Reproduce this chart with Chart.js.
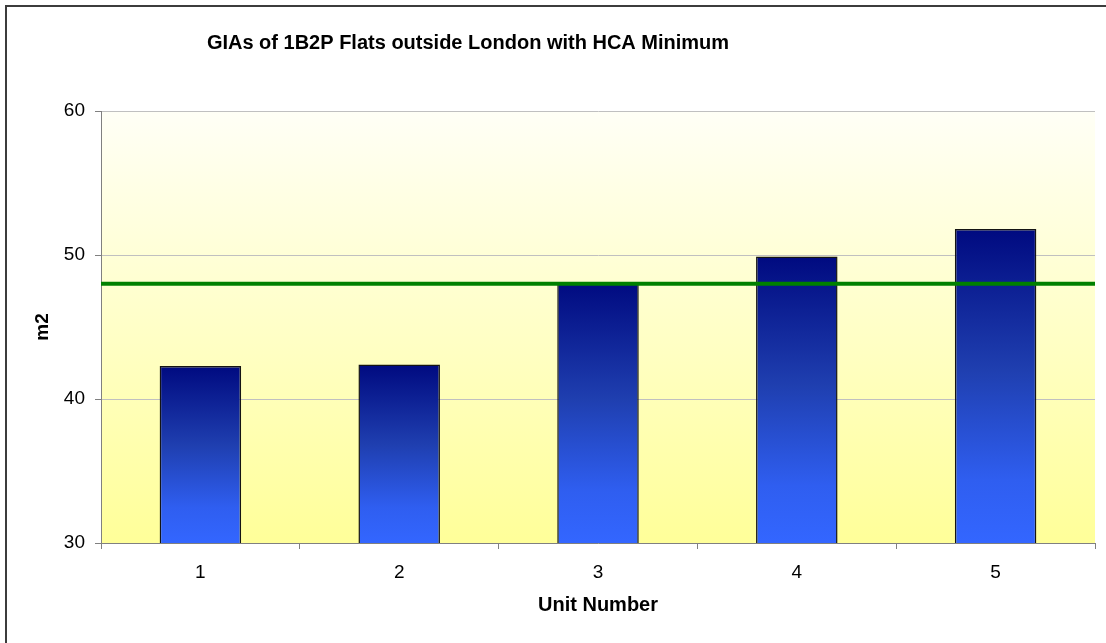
<!DOCTYPE html>
<html>
<head>
<meta charset="utf-8">
<title>GIAs of 1B2P Flats</title>
<script src="https://cdn.jsdelivr.net/npm/chart.js@4/dist/chart.umd.min.js"></script>
<style>
  html, body { margin: 0; padding: 0; background: #fff; overflow: hidden; }
  #wrap { position: relative; width: 1106px; height: 643px; overflow: hidden; }
  #frame {
    position: absolute; left: 5px; top: 5px; width: 1200px; height: 700px;
    border-left: 2px solid #3c3c3c; border-top: 2px solid #3c3c3c;
    pointer-events: none;
  }
</style>
</head>
<body>
<div id="wrap">
  <canvas id="chart" width="1106" height="643"></canvas>
  <div id="frame"></div>
</div>
<script>
const units = ['1', '2', '3', '4', '5'];
const areas = [42.3, 42.4, 48.1, 49.9, 51.8];
const hcaMinimum = 48;
const yTicks = [30, 40, 50, 60];

const FONT = "'Liberation Sans', Arial, Helvetica, sans-serif";

// yellow wash behind the plot area
const plotBackground = {
    id: 'plotBackground',
    beforeDraw(chart) {
        const { ctx, chartArea: a } = chart;
        const g = ctx.createLinearGradient(0, a.top, 0, a.bottom);
        g.addColorStop(0, '#fffff6');
        g.addColorStop(1, '#ffff99');
        ctx.save();
        ctx.fillStyle = g;
        ctx.fillRect(a.left, a.top, a.right - a.left, a.bottom - a.top);
        ctx.restore();
    }
};

// the title sits centred over the whole chart object, a bit left of the plot
const titleSpan = {
    id: 'titleSpan',
    afterLayout(chart) {
        if (chart.titleBlock) {
            chart.titleBlock.left = 0;
            chart.titleBlock.right = 936;
        }
    }
};

// navy-to-blue fill, one gradient per bar
function barFill(context) {
    const chart = context.chart;
    const a = chart.chartArea;
    if (!a) return '#3366ff';
    const top = chart.scales.y.getPixelForValue(context.raw);
    const g = chart.ctx.createLinearGradient(0, top, 0, a.bottom);
    g.addColorStop(0, '#000a80');
    g.addColorStop(0.45, '#1f3fb0');
    g.addColorStop(0.8, '#2f5ef0');
    g.addColorStop(1, '#3366ff');
    return g;
}

const ctx = document.getElementById('chart').getContext('2d');
new Chart(ctx, {
    type: 'bar',
    data: {
        labels: units,
        datasets: [{
            type: 'line',
            label: 'HCA Minimum',
            data: [{ x: 0, y: hcaMinimum }, { x: units.length, y: hcaMinimum }],
            xAxisID: 'xLine',
            borderColor: '#008000',
            borderWidth: 4,
            pointRadius: 0,
            borderCapStyle: 'butt',
            order: 0
        }, {
            label: 'GIA',
            data: areas,
            backgroundColor: barFill,
            borderColor: '#141414',
            borderWidth: 1.5,
            borderSkipped: false,
            grouped: false,
            categoryPercentage: 1,
            barPercentage: 0.41,
            order: 1
        }]
    },
    options: {
        responsive: false,
        animation: false,
        layout: { padding: { left: 0, right: 11, top: 0, bottom: 0 } },
        plugins: {
            legend: { display: false },
            tooltip: { enabled: false },
            title: {
                display: true,
                text: 'GIAs of 1B2P Flats outside London with HCA Minimum',
                color: '#000',
                font: { family: FONT, size: 20, weight: 'bold' },
                padding: { top: 31, bottom: 56 }
            }
        },
        scales: {
            x: {
                offset: true,
                grid: {
                    offset: true,
                    drawOnChartArea: false,
                    tickLength: 6,
                    tickColor: '#808080'
                },
                border: { color: '#808080', width: 1 },
                ticks: {
                    color: '#000',
                    font: { family: FONT, size: 19 },
                    padding: 12
                },
                title: {
                    display: true,
                    text: 'Unit Number',
                    color: '#000',
                    font: { family: FONT, size: 20, weight: 'bold' },
                    padding: { top: 0, bottom: 26 }
                },
                afterFit(scale) { scale.height = 100; }
            },
            xLine: {
                type: 'linear',
                display: false,
                offset: false,
                grid: { offset: false },
                min: 0,
                max: units.length
            },
            y: {
                min: 30,
                max: 60,
                afterBuildTicks(scale) {
                    scale.ticks = yTicks.map(v => ({ value: v }));
                },
                grid: {
                    color: '#c0c0c0',
                    tickLength: 6,
                    tickColor: '#808080'
                },
                border: { color: '#808080', width: 1 },
                ticks: {
                    color: '#000',
                    font: { family: FONT, size: 19 },
                    padding: 10
                },
                title: {
                    display: true,
                    text: 'm2',
                    color: '#000',
                    font: { family: FONT, size: 19, weight: 'bold' },
                    padding: { top: 31, bottom: 0 }
                },
                afterFit(scale) { scale.width = 101; }
            }
        }
    },
    plugins: [plotBackground, titleSpan]
});
</script>
</body>
</html>
